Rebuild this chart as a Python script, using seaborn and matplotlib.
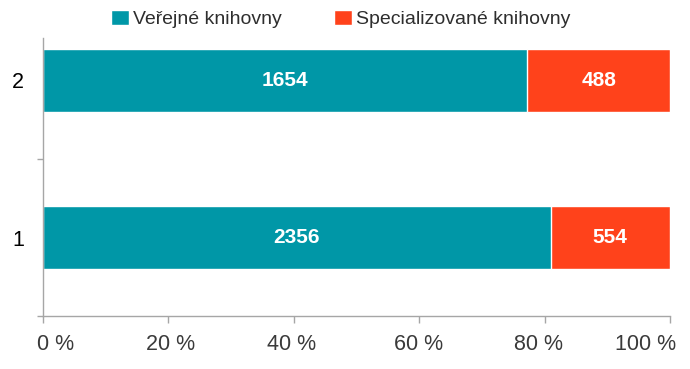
import matplotlib
matplotlib.use("Agg")
import matplotlib.pyplot as plt
from matplotlib.ticker import FixedLocator, FuncFormatter
from matplotlib.transforms import ScaledTranslation
import seaborn as sns
import pandas as pd

# data
categories = ["2", "1"]
verejne = [1654, 2356]
specializovane = [488, 554]
series_names = ["Veřejné knihovny", "Specializované knihovny"]
x_ticks = [0, 20, 40, 60, 80, 100]

teal = "#0097A7"
orange = "#FF421B"
grey = "#A6A6A6"
text_col = "#3A3A3A"

df = pd.DataFrame({"kat": categories, "ver": verejne, "spec": specializovane})
df["total"] = df["ver"] + df["spec"]
df["ver_pct"] = df["ver"] / df["total"] * 100
df["full"] = 100.0

sns.set_style("white")
plt.rcParams["font.family"] = ["Liberation Sans", "DejaVu Sans"]

fig = plt.figure(figsize=(6.9, 3.69), dpi=100)
ax = fig.add_axes([43 / 690, 53 / 369, 627 / 690, 314 / 369])

# orange = whole bar, teal drawn over it
sns.barplot(data=df, y="kat", x="full", order=categories, color=orange,
            width=0.4, saturation=1, ax=ax, label=series_names[1])
sns.barplot(data=df, y="kat", x="ver_pct", order=categories, color=teal,
            width=0.4, saturation=1, ax=ax, label=series_names[0])

# value labels
for i, row in df.iterrows():
    ax.text(row["ver_pct"] / 2, i, str(row["ver"]), ha="center", va="center",
            color="white", fontsize=15, fontweight="bold")
    ax.text((row["ver_pct"] + 100) / 2, i, str(row["spec"]), ha="center",
            va="center", color="white", fontsize=15, fontweight="bold")

ax.set_xlim(0, 100)
ax.set_ylim(1.5, -0.5)
ax.set_xlabel("")
ax.set_ylabel("")

ax.xaxis.set_major_locator(FixedLocator(x_ticks))
ax.xaxis.set_major_formatter(FuncFormatter(lambda v, p: f"{v:.0f} %"))
ax.tick_params(axis="x", bottom=True, length=5, width=1, color=grey,
               direction="out", labelsize=15.5, labelcolor=text_col, pad=8)
ax.tick_params(axis="y", which="major", left=True, length=0, labelsize=15.5,
               labelcolor="black", pad=13.5)
ax.yaxis.set_minor_locator(FixedLocator([0.5, 1.5]))
ax.tick_params(axis="y", which="minor", left=True, length=4, width=1,
               color=grey, direction="out")

# shift x labels a bit so the end labels stay inside, like the original
shifts = [13, 2, -2, -1, -6, -24]
for lab, dx in zip(ax.get_xticklabels(), shifts):
    lab.set_transform(lab.get_transform() + ScaledTranslation(dx / 100, 0, fig.dpi_scale_trans))

for side in ["top", "right"]:
    ax.spines[side].set_visible(False)
for side in ["left", "bottom"]:
    ax.spines[side].set_color(grey)
    ax.spines[side].set_linewidth(1)
ax.spines["left"].set_bounds(1.5, -0.27)

handles, labels = ax.get_legend_handles_labels()
order = [labels.index(n) for n in series_names]
leg_x = (341 - 43) / 627
ax.legend([handles[k] for k in order], [labels[k] for k in order],
          loc="center", bbox_to_anchor=(leg_x, (350 - 53) / 314),
          bbox_transform=ax.transAxes, ncol=2, frameon=False, fontsize=14,
          handlelength=0.9, handleheight=0.78, handletextpad=0.23,
          columnspacing=2.7, labelcolor="#2E2E2E", borderpad=0)

fig.savefig("out.png", dpi=100)
